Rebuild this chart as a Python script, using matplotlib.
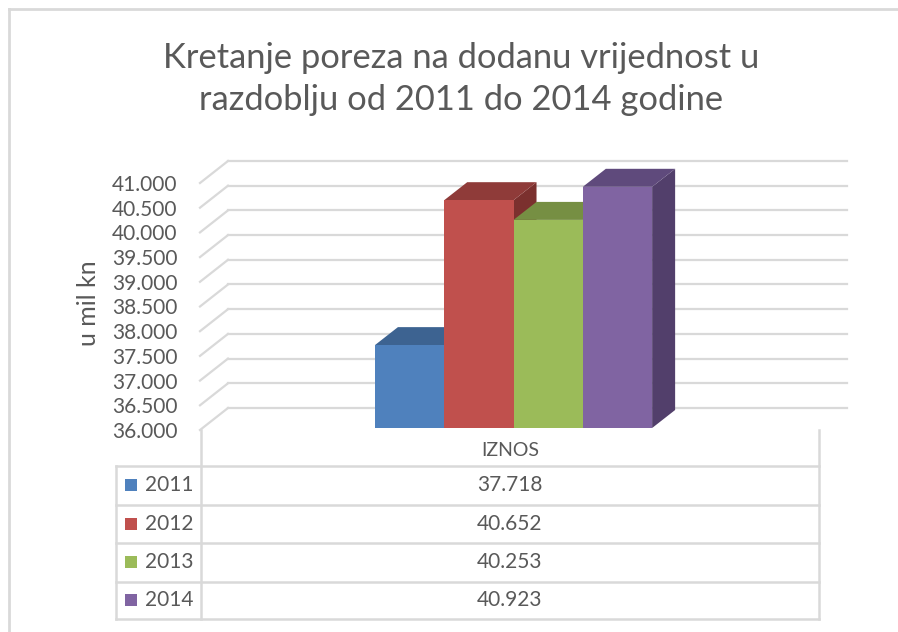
import numpy as np
import matplotlib.pyplot as plt
from matplotlib.patches import Polygon, Rectangle
from matplotlib.lines import Line2D

plt.rcParams['font.family'] = ['Lato', 'DejaVu Sans']

# data
title = 'Kretanje poreza na dodanu vrijednost u\nrazdoblju od 2011 do 2014 godine'
y_label = 'u mil kn'
category = 'IZNOS'
years = ['2011', '2012', '2013', '2014']
iznos = [37718, 40652, 40253, 40923]
y_ticks = np.arange(36000, 41001, 500)

# styles
front_c = ['#4F81BD', '#C0504D', '#9BBB59', '#8064A2']
top_c = ['#3D6391', '#8F3B39', '#768F43', '#5F4A7C']
side_c = ['#34557D', '#7B302E', '#667C3A', '#523F6B']
grid_c = '#D9D9D9'
text_c = '#595959'

W, H = 898, 632
fig = plt.figure(figsize=(W / 100, H / 100), dpi=100)

# chart area border (only left and top are inside the screenshot)
fig.add_artist(Line2D([9 / W, 9 / W], [0, 1 - 9 / H], color=grid_c, lw=2))
fig.add_artist(Line2D([9 / W, 1], [1 - 9 / H, 1 - 9 / H], color=grid_c, lw=2))

fig.text(461 / W, 1 - 79 / H, title, ha='center', va='center', fontsize=24.8,
         color=text_c, linespacing=1.38)
fig.text(88 / W, 1 - 303 / H, y_label, rotation=90, ha='center', va='center',
         fontsize=18, color=text_c)

# plot area (front plane of the 3d box)
x0, x1, yb, yt = 200, 819, 430, 183
ax = fig.add_axes([x0 / W, 1 - yb / H, (x1 - x0) / W, (yb - yt) / H])
ax.set_xlim(0, 1)
ax.set_ylim(y_ticks[0], y_ticks[-1])
for s in ax.spines.values():
    s.set_visible(False)
ax.set_xticks([])
ax.set_yticks(y_ticks)
ax.set_yticklabels([f'{v:,.0f}'.replace(',', '.') for v in y_ticks])
ax.tick_params(axis='y', length=0, pad=16, labelsize=15, labelcolor=text_c)
ax.patch.set_visible(False)

# pixel -> data conversion
px_x = 1 / (x1 - x0)
px_y = (y_ticks[-1] - y_ticks[0]) / (yb - yt)

# back wall and side wall gridlines
dxw, dyw = 28 * px_x, 22 * px_y
for v in y_ticks:
    ax.plot([0, dxw], [v, v + dyw], color=grid_c, lw=1.6, clip_on=False, zorder=1)
    ax.plot([dxw, 1 + dxw], [v + dyw, v + dyw], color=grid_c, lw=1.6,
            clip_on=False, zorder=1)

# 3d columns
bw = 69.3 * px_x
dxb, dyb = 23 * px_x, 18 * px_y
offy = 2 * px_y
base = y_ticks[0] + offy
centre = 0.5065
for i, v in enumerate(iznos):
    xl = centre + (i - 2) * bw
    xr = xl + bw
    z = 3 + i
    side = [(xr, base), (xr + dxb, base + dyb), (xr + dxb, v + dyb), (xr, v)]
    top = [(xl, v), (xl + dxb, v + dyb), (xr + dxb, v + dyb), (xr, v)]
    ax.add_patch(Polygon(side, closed=True, facecolor=side_c[i], edgecolor='none',
                         zorder=z, clip_on=False))
    ax.add_patch(Polygon(top, closed=True, facecolor=top_c[i], edgecolor='none',
                         zorder=z, clip_on=False))
    ax.bar(xl, v - base, bottom=base, width=bw, align='edge', color=front_c[i],
           zorder=z + 0.5, clip_on=False)

# data table
tx0, tx1, ty0, ty1 = 116, 819, 430, 619
tax = fig.add_axes([tx0 / W, 1 - ty1 / H, (tx1 - tx0) / W, (ty1 - ty0) / H])
tax.set_xlim(tx0, tx1)
tax.set_ylim(ty1, ty0)
tax.axis('off')
div = 201
rows = [466, 504.5, 543, 581.5, 619]
lk = dict(color=grid_c, lw=1.8, clip_on=False)
tax.plot([div, div], [ty0, ty1], **lk)
tax.plot([tx1, tx1], [ty0, ty1], **lk)
tax.plot([tx0, tx0], [rows[0], ty1], **lk)
for r in rows:
    tax.plot([tx0, tx1], [r, r], **lk)
mid = (div + tx1) / 2
tax.text(mid, (ty0 + rows[0]) / 2 + 2, category, ha='center', va='center',
         fontsize=14, color=text_c)
for i, (yr, v) in enumerate(zip(years, iznos)):
    cy = (rows[i] + rows[i + 1]) / 2
    tax.add_patch(Rectangle((125, cy - 6), 12, 12, facecolor=front_c[i],
                            edgecolor='none'))
    tax.text(145, cy, yr, ha='left', va='center', fontsize=15, color=text_c)
    tax.text(mid, cy, f'{v:,.0f}'.replace(',', '.'), ha='center', va='center',
             fontsize=15, color=text_c)

fig.savefig('out.png', dpi=100)
